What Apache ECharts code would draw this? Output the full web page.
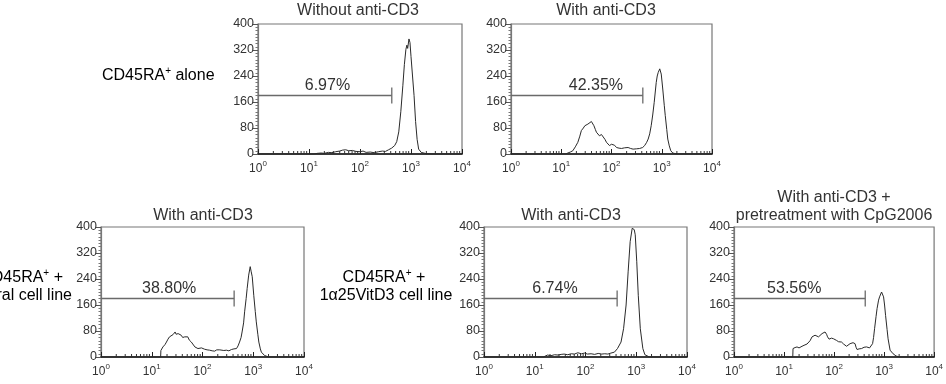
<!DOCTYPE html>
<html><head><meta charset="utf-8">
<script src="https://cdn.jsdelivr.net/npm/echarts@6/dist/echarts.min.js"></script>
<style>html,body{margin:0;padding:0;background:#fff;}#c{width:946px;height:384px;}</style>
</head><body><div id="c"></div>
<script>
// ---------- data ----------
const yTicks = [0, 80, 160, 240, 320, 400];
const xDecadeLabels = ['0', '1', '2', '3', '4'];
const minorX = [2,3,4,5,6,7,8,9,20,30,40,50,60,70,80,90,200,300,400,500,600,700,800,900,2000,3000,4000,5000,6000,7000,8000,9000];
const titles = ['Without anti-CD3', 'With anti-CD3', 'With anti-CD3', 'With anti-CD3', 'With anti-CD3 +\npretreatment with CpG2006'];
const percents = ['6.97%', '42.35%', '38.80%', '6.74%', '53.56%'];
const gateEnd = [420, 420, 420, 420, 420];          // channel value of gate end
const gateLevel = 180;                               // count level of gate marker
const labelCenter = [23, 49, 22, 25, 16];            // channel value of % label centre
// histograms: [log10(channel), count]
const p1 = [[0,0],[1.1,0],[1.16,2],[1.24,3],[1.3,2],[1.38,5],[1.45,4],[1.52,7],[1.6,9],[1.66,12],[1.72,13],[1.78,10],[1.85,11],[1.92,8],[2.0,7],[2.06,9],[2.12,5],[2.2,6],[2.28,4],[2.36,7],[2.44,9],[2.5,8],[2.56,13],[2.62,18],[2.68,26],[2.72,38],[2.76,68],[2.8,130],[2.84,210],[2.87,275],[2.9,322],[2.92,335],[2.935,325],[2.96,354],[2.98,343],[3.0,300],[3.03,240],[3.06,180],[3.09,100],[3.12,45],[3.15,15],[3.2,5],[3.3,1],[3.4,0],[4,0]];
const p2 = [[0,0],[1.08,0],[1.13,3],[1.18,6],[1.23,10],[1.28,22],[1.33,36],[1.37,55],[1.4,72],[1.44,80],[1.47,87],[1.5,85],[1.53,92],[1.56,90],[1.6,100],[1.63,95],[1.65,87],[1.68,75],[1.7,67],[1.73,62],[1.76,56],[1.8,60],[1.83,56],[1.87,45],[1.9,36],[1.93,30],[1.96,26],[2.0,30],[2.03,34],[2.06,27],[2.1,20],[2.15,18],[2.2,17],[2.26,19],[2.33,20],[2.38,17],[2.43,15],[2.5,16],[2.56,17],[2.62,20],[2.66,26],[2.7,36],[2.73,46],[2.76,62],[2.79,87],[2.82,120],[2.85,159],[2.89,220],[2.91,240],[2.93,251],[2.96,262],[2.99,246],[3.02,200],[3.05,150],[3.07,118],[3.1,75],[3.12,46],[3.15,25],[3.18,10],[3.22,3],[3.3,0],[4,0]];
const p3 = [[0,0],[1.175,0],[1.18,20],[1.22,31],[1.26,38],[1.29,46],[1.32,55],[1.35,62],[1.38,66],[1.42,69],[1.44,74],[1.46,77],[1.48,70],[1.5,75],[1.52,72],[1.55,66],[1.58,67],[1.61,60],[1.65,62],[1.68,58],[1.71,62],[1.74,52],[1.78,46],[1.81,40],[1.85,31],[1.88,29],[1.91,26],[1.94,30],[1.98,28],[2.01,23],[2.04,24],[2.09,22],[2.14,21],[2.19,19],[2.24,18],[2.28,22],[2.31,26],[2.34,22],[2.37,19],[2.42,20],[2.47,21],[2.52,19],[2.57,23],[2.62,25],[2.67,26],[2.7,34],[2.73,46],[2.76,60],[2.78,77],[2.81,105],[2.83,139],[2.86,180],[2.88,211],[2.91,252],[2.94,278],[2.96,262],[2.98,247],[3.01,190],[3.04,140],[3.06,108],[3.09,70],[3.11,46],[3.14,25],[3.16,15],[3.22,5],[3.3,0],[4,0]];
const p4 = [[0,0],[1.17,0],[1.18,5],[1.25,6],[1.32,4],[1.39,7],[1.46,6],[1.52,8],[1.58,9],[1.65,7],[1.72,10],[1.78,9],[1.85,13],[1.92,10],[1.98,12],[2.04,9],[2.11,10],[2.18,8],[2.25,11],[2.32,9],[2.38,10],[2.44,9],[2.5,12],[2.57,15],[2.63,26],[2.7,46],[2.75,87],[2.8,160],[2.84,262],[2.88,355],[2.92,396],[2.94,400],[2.96,392],[2.98,376],[3.01,293],[3.04,190],[3.08,87],[3.13,26],[3.17,7],[3.26,0],[4,0]];
const p5 = [[0,0],[1.175,0],[1.18,26],[1.22,29],[1.26,31],[1.3,28],[1.33,34],[1.36,33],[1.4,36],[1.43,36],[1.46,40],[1.49,41],[1.52,50],[1.56,62],[1.59,58],[1.62,67],[1.65,64],[1.69,62],[1.72,66],[1.76,72],[1.79,74],[1.82,77],[1.85,70],[1.87,62],[1.9,55],[1.92,51],[1.95,58],[1.99,56],[2.02,52],[2.05,51],[2.09,47],[2.15,46],[2.19,40],[2.22,34],[2.25,33],[2.28,36],[2.32,41],[2.35,46],[2.38,44],[2.42,41],[2.44,30],[2.46,23],[2.5,25],[2.55,26],[2.6,30],[2.65,31],[2.68,27],[2.71,28],[2.74,33],[2.77,41],[2.79,60],[2.81,87],[2.84,125],[2.86,149],[2.89,175],[2.91,185],[2.95,200],[2.97,195],[2.99,185],[3.01,160],[3.03,128],[3.06,85],[3.08,56],[3.12,21],[3.18,10],[3.24,3],[3.31,0],[4,0]];
const panels = [p1, p2, p3, p4, p5];

// ---------- layout ----------
const FONT = 'Liberation Sans, Arial, Helvetica, sans-serif';
const TXT = '#333';
const grids = [
  {left: 258, top: 24, width: 204, height: 130},
  {left: 511, top: 24, width: 201, height: 130},
  {left: 101, top: 227, width: 203, height: 130},
  {left: 484, top: 227, width: 203, height: 130},
  {left: 734, top: 227, width: 202, height: 130}
];
const titlePos = [[358, 11], [606, 11], [203, 216], [571, 216], [834, 207]];

const xAxes = [], yAxes = [], series = [];
grids.forEach((g, i) => {
  g.show = true; g.borderColor = '#777'; g.borderWidth = 1.2; g.containLabel = false;
  xAxes.push({
    gridIndex: i, type: 'log', logBase: 10, min: 1, max: 10000,
    axisLine: {show: true, lineStyle: {color: '#111', width: 1.6}},
    axisTick: {show: true, inside: true, length: 5, lineStyle: {color: '#222'}},
    splitLine: {show: false},
    axisLabel: {
      margin: 6, color: TXT, fontFamily: FONT,
      formatter: v => '{b|10}{s|' + xDecadeLabels[Math.round(Math.log10(v))] + '}',
      rich: {
        b: {fontSize: 12, fontFamily: FONT, color: TXT, lineHeight: 15, verticalAlign: 'bottom'},
        s: {fontSize: 8, fontFamily: FONT, color: TXT, lineHeight: 15, verticalAlign: 'top'}
      }
    }
  });
  yAxes.push({
    gridIndex: i, type: 'value', min: 0, max: 400, interval: 80,
    axisLine: {show: true, lineStyle: {color: '#777', width: 1.2}},
    axisTick: {show: true, length: 5, lineStyle: {color: '#555'}},
    minorTick: {show: true, splitNumber: 8, length: 2.5, lineStyle: {color: '#777'}},
    splitLine: {show: false},
    axisLabel: {margin: 4, color: TXT, fontFamily: FONT, fontSize: 12.5,
      formatter: v => yTicks.includes(v) ? String(v) : ''}
  });
  series.push({
    type: 'line', xAxisIndex: i, yAxisIndex: i, showSymbol: false, symbol: 'none',
    data: panels[i].map(([e, c]) => [Math.pow(10, e), c]),
    lineStyle: {color: '#2a2a2a', width: 1}, animation: false, clip: true
  });
  // log minor ticks on the x axis (inside)
  series.push({
    type: 'custom', xAxisIndex: i, yAxisIndex: i, animation: false, silent: true,
    data: minorX.map(v => [v, 0]),
    encode: {x: 0, y: 1},
    renderItem: (params, api) => {
      const p = api.coord([api.value(0), 0]);
      return {type: 'line', shape: {x1: p[0], y1: p[1], x2: p[0], y2: p[1] - 3},
        style: {stroke: '#333', lineWidth: 1}};
    }
  });
  // gate marker + percentage
  const pct = percents[i];
  series.push({
    type: 'custom', xAxisIndex: i, yAxisIndex: i, animation: false, silent: true, clip: false,
    data: [[gateEnd[i], gateLevel, labelCenter[i]]],
    encode: {x: 0, y: 1},
    renderItem: (params, api) => {
      const a = api.coord([1, api.value(1)]);
      const b = api.coord([api.value(0), api.value(1)]);
      const c = api.coord([api.value(2), api.value(1)]);
      return {type: 'group', children: [
        {type: 'line', shape: {x1: a[0], y1: a[1], x2: b[0], y2: b[1]}, style: {stroke: '#6a6a6a', lineWidth: 1.3}},
        {type: 'line', shape: {x1: b[0], y1: b[1] - 8, x2: b[0], y2: b[1] + 8}, style: {stroke: '#6a6a6a', lineWidth: 1.3}},
        {type: 'text', x: c[0], y: a[1] - 10, style: {text: pct, fontSize: 16, fontFamily: FONT, fill: TXT, align: 'center', verticalAlign: 'middle'}}
      ]};
    }
  });
});

const richRow = {
  n: {fontSize: 16, fontFamily: FONT, color: TXT, lineHeight: 18, verticalAlign: 'bottom'},
  s: {fontSize: 10, fontFamily: FONT, color: TXT, lineHeight: 18, verticalAlign: 'top'}
};
const graphics = [];
titles.forEach((t, i) => {
  graphics.push({type: 'text', x: titlePos[i][0], y: titlePos[i][1],
    style: {text: t, fontSize: 16, fontFamily: FONT, fill: TXT, align: 'center', verticalAlign: 'middle', lineHeight: 18}});
});
graphics.push({type: 'text', x: 102, y: 75, style: {text: '{n|CD45RA}{s|+}{n| alone}', rich: richRow, align: 'left', verticalAlign: 'middle'}});
graphics.push({type: 'text', x: 63, y: 277, style: {text: '{n|CD45RA}{s|+}{n| +}', rich: richRow, align: 'right', verticalAlign: 'middle'}});
graphics.push({type: 'text', x: 72, y: 295, style: {text: '{n|neutral cell line}', rich: richRow, align: 'right', verticalAlign: 'middle'}});
graphics.push({type: 'text', x: 384, y: 277, style: {text: '{n|CD45RA}{s|+}{n| +}', rich: richRow, align: 'center', verticalAlign: 'middle'}});
graphics.push({type: 'text', x: 386, y: 295, style: {text: '{n|1α25VitD3 cell line}', rich: richRow, align: 'center', verticalAlign: 'middle'}});

const chart = echarts.init(document.getElementById('c'), null, {renderer: 'canvas'});
chart.setOption({
  backgroundColor: '#fff',
  animation: false,
  grid: grids, xAxis: xAxes, yAxis: yAxes, series: series,
  graphic: graphics
});
</script>
</body></html>
